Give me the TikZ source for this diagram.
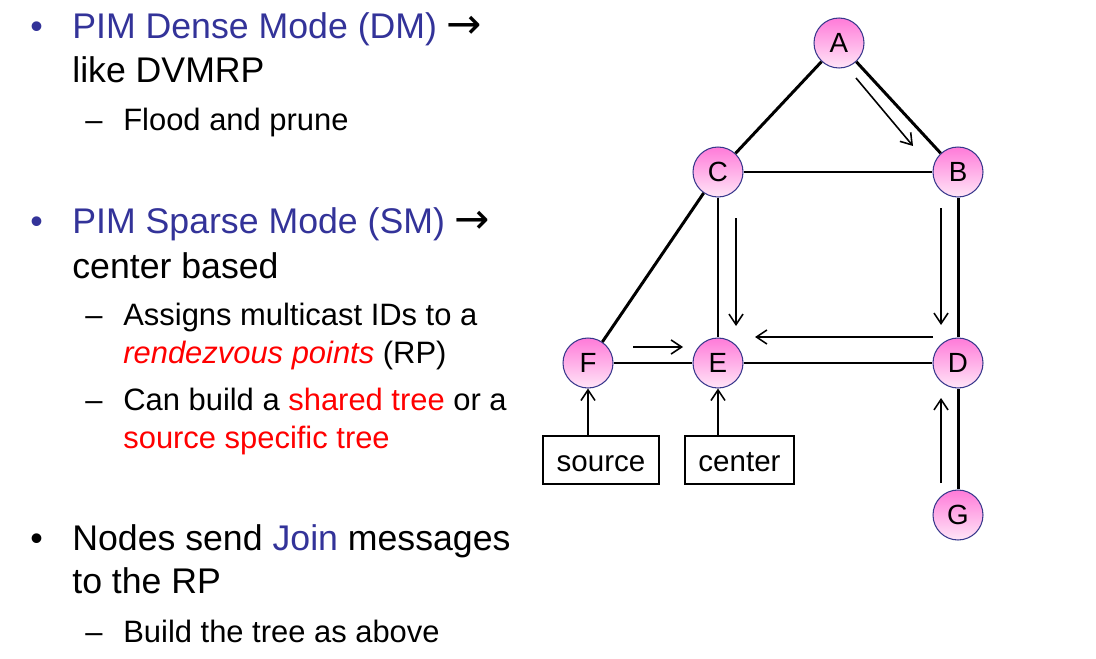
\documentclass[tikz,border=0pt]{standalone}
\usepackage{fontspec}
\setmainfont{Liberation Sans}
\newfontfamily\arrowfont{DejaVu Sans}
\usetikzlibrary{arrows.meta,calc}

\begin{document}
\begin{tikzpicture}[x=0.02cm,y=-0.02cm,>={Straight Barb[length=6pt,width=8pt]},
  pim/.style={circle,draw=pimrim,line width=0.6pt,top color=pimtop,bottom color=pimbot,
    minimum size=1cm,inner sep=0pt,font=\fontsize{15.8}{18}\selectfont},
  link/.style={line width=1.7pt},
  flow/.style={line width=0.9pt,->},
  host/.style={draw,line width=0.8pt,minimum height=48*0.02cm,text height=13pt,text depth=0pt,
    inner sep=0pt,font=\fontsize{16.8}{20}\selectfont},
  big/.style={anchor=base west,inner sep=0pt,font=\fontsize{20.3}{24}\selectfont},
  small/.style={anchor=base west,inner sep=0pt,font=\fontsize{17.6}{21}\selectfont}]

\definecolor{pimblue}{rgb}{0.2,0.2,0.6}
\definecolor{pimrim}{rgb}{0.22,0.22,0.55}
\definecolor{pimtop}{rgb}{1,0.48,0.85}
\definecolor{pimbot}{rgb}{1,0.9,0.97}

\useasboundingbox (0,0) rectangle (1096,659);

% left column
\node[big,text=pimblue](b1) at (30,38){•};
\node[big](l1) at (72,38){\textcolor{pimblue}{PIM Dense Mode (DM)} {\arrowfont\fontsize{24}{24}\selectfont →}};
\node[big](l2) at (72,82){like DVMRP};
\node[small](d1) at (85,130){–};
\node[small](l3) at (123,130){Flood and prune};

\node[big,text=pimblue](b2) at (30,233){•};
\node[big](l4) at (72,233){\textcolor{pimblue}{PIM Sparse Mode (SM)} {\arrowfont\fontsize{24}{24}\selectfont →}};
\node[big](l5) at (72,278){center based};
\node[small](d2) at (85,325){–};
\node[small](l6) at (123,325){Assigns multicast IDs to a};
\node[small](l7) at (123,363){\textcolor{red}{\itshape rendezvous points} (RP)};
\node[small](d3) at (85,410){–};
\node[small](l8) at (123,410){Can build a \textcolor{red}{shared tree} or a};
\node[small](l9) at (123,448){\textcolor{red}{source specific tree}};

\node[big](b3) at (30,550){•};
\node[big](l10) at (72,550){Nodes send \textcolor{pimblue}{Join} messages};
\node[big](l11) at (72,593){to the RP};
\node[small](d4) at (85,642){–};
\node[small](l12) at (123,642){Build the tree as above};

% graph
\node[pim](A) at (839,43){A};
\node[pim](B) at (958,172){B};
\node[pim](C) at (718,172){C};
\node[pim](D) at (958,363){D};
\node[pim](E) at (718,363){E};
\node[pim](F) at (588,363){F};
\node[pim](G) at (958,515){G};

\node[host,minimum width=116*0.02cm](src) at (601,460){source};
\node[host,minimum width=109*0.02cm](ctr) at (739.5,460){center};

\draw[link](A)--(C);
\draw[link](A)--(B);
\draw[link](C)--(B);
\draw[link](C)--(F);
\draw[link](C)--(E);
\draw[link](B)--(D);
\draw[link](F)--(E);
\draw[link](E)--(D);
\draw[link](D)--(G);

\draw[flow]($(A)+(17,35)$)--($(B)+(-45,-26)$);
\draw[flow]($(C)+(18,46)$)--($(E)+(18,-37)$);
\draw[flow]($(B)+(-17,36)$)--($(D)+(-17,-38)$);
\draw[flow]($(D)+(-25,-26)$)--($(E)+(37,-26)$);
\draw[flow]($(F)+(45,-16)$)--($(E)+(-35,-16)$);
\draw[flow]($(G)+(-17,-32)$)--($(D)+(-17,35)$);
\draw[flow](src.north -| F)--(F);
\draw[flow](ctr.north -| E)--(E);

\end{tikzpicture}
\end{document}
